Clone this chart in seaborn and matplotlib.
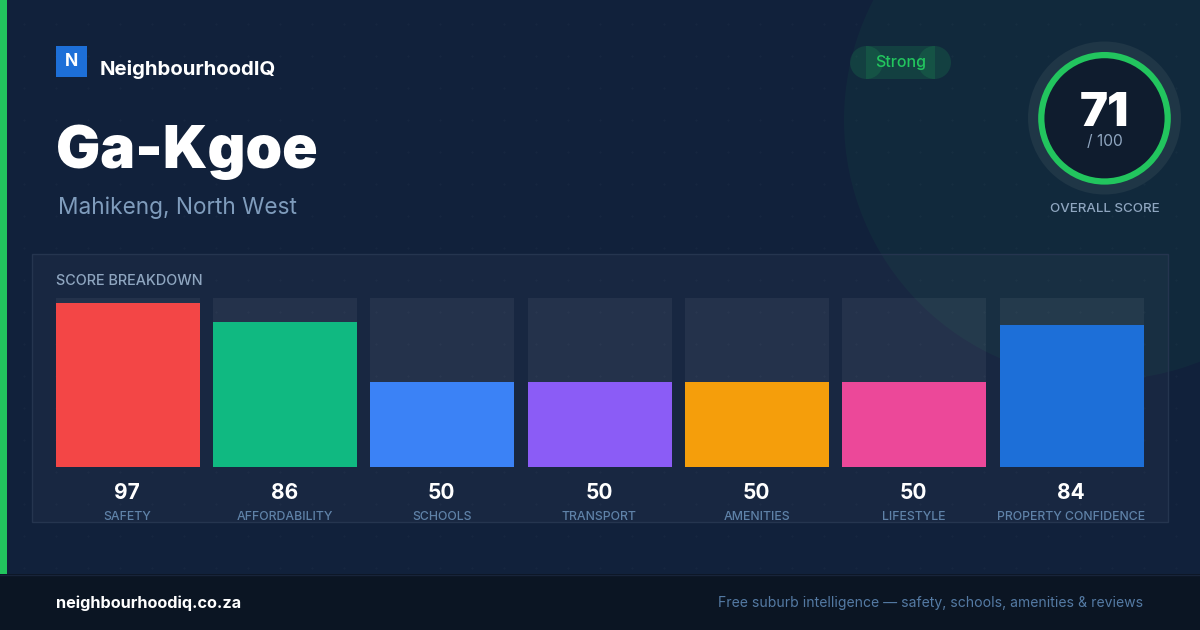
import matplotlib
matplotlib.use('Agg')
import matplotlib.pyplot as plt
from matplotlib.patches import Circle, Rectangle
from matplotlib.transforms import ScaledTranslation
import numpy as np
import seaborn as sns

categories = ['SAFETY', 'AFFORDABILITY', 'SCHOOLS', 'TRANSPORT', 'AMENITIES', 'LIFESTYLE', 'PROPERTY CONFIDENCE']
scores = [97, 86, 50, 50, 50, 50, 84]
track = [100] * 7
bar_colors = ['#f34646', '#10b981', '#3b82f6', '#8b5cf6', '#f59e0b', '#ec4899', '#1d6fd8']
overall = 71

sns.set_theme(style='white')
plt.rcParams['font.family'] = ['Inter', 'DejaVu Sans']

W, H = 1200, 630
GREEN = '#22c55e'
fig = plt.figure(figsize=(12, 6.3), dpi=100, facecolor='#11213b')

# fondo en pixeles, mismo sistema que la captura
bg = fig.add_axes([0, 0, 1, 1])
bg.set_xlim(0, W)
bg.set_ylim(H, 0)
bg.axis('off')

bg.add_patch(Circle((1104, 120), 260, fc=GREEN, alpha=0.05, lw=0))
dx, dy = np.meshgrid(np.arange(24, W, 32), np.arange(24, 574, 32))
bg.scatter(dx.ravel(), dy.ravel(), s=3, color='white', alpha=0.025, lw=0)

bg.add_patch(Rectangle((0, 0), 7, 574, fc=GREEN, lw=0))
bg.add_patch(Rectangle((0, 574), W, 56, fc='#0b1523', lw=0))
bg.plot([0, W], [574.5, 574.5], color='#18243a', lw=1)

# logo y titulos
bg.add_patch(Rectangle((56, 46), 31, 31, fc='#1d6fd8', lw=0))
bg.text(71.5, 61, 'N', color='white', fontsize=12.5, fontweight='bold', ha='center', va='center')
bg.text(100, 75, 'NeighbourhoodIQ', color='white', fontsize=14.65, fontweight='bold', va='baseline')
bg.text(56, 168.5, 'Ga-Kgoe', color='white', fontsize=42.3, fontweight='black', va='baseline')
bg.text(58, 214, 'Mahikeng, North West', color='#7f9cbc', fontsize=16.3, va='baseline')

# pastilla
bg.add_patch(Circle((866.5, 62.5), 16.5, fc=GREEN, alpha=0.15, lw=0))
bg.add_patch(Circle((934.5, 62.5), 16.5, fc=GREEN, alpha=0.15, lw=0))
bg.add_patch(Rectangle((866, 46), 69, 33, fc=GREEN, alpha=0.15, lw=0))
bg.text(900.5, 62.5, 'Strong', color=GREEN, fontsize=11.5, fontweight='medium', ha='center', va='center')

# indicador general
bg.add_patch(Circle((1104.5, 118), 76.5, fc='#1f3646', lw=0))
bg.add_patch(Circle((1104.5, 118.3), 63.2, fc='#0f1c2e', ec=GREEN, lw=4.5))
bg.text(1104.5, 126, str(overall), color='white', fontsize=34, fontweight='black', ha='center', va='baseline')
bg.text(1104.5, 142, '/ 100', color='#8fa6c0', fontsize=11.2, ha='center', va='center')
bg.text(1104.5, 208.5, 'OVERALL SCORE', color='#8fa6c0', fontsize=9.6, fontweight='medium', ha='center', va='center')

# panel
bg.add_patch(Rectangle((32, 254), 1136, 268, fc='white', alpha=0.03, lw=0))
bg.add_patch(Rectangle((32, 254), 1136, 268, fc='none', ec='#25354f', lw=1))
bg.text(56, 281, 'SCORE BREAKDOWN', color='#8fa6c0', fontsize=10.4, fontweight='medium', va='center')

# pie
bg.text(56, 603, 'neighbourhoodiq.co.za', color='white', fontsize=11.7, fontweight='bold', va='center')
bg.text(1143, 603, 'Free suburb intelligence — safety, schools, amenities & reviews',
        color='#547aa3', fontsize=10.1, ha='right', va='center')

# barras
step = (1144 - 56 - 144) / 6
left = 56 - (step - 144) / 2 - 0.2
ax = fig.add_axes([left / W, 1 - 466.9 / H, 7 * step / W, 169 / H])
ax.patch.set_alpha(0)
bar_width = 144 / step
sns.barplot(x=categories, y=track, color='white', alpha=0.055, saturation=1, width=bar_width,
            linewidth=0, edgecolor='none', ax=ax)
sns.barplot(x=categories, y=scores, hue=categories, palette=bar_colors, saturation=1,
            width=bar_width, legend=False, linewidth=0, edgecolor='none', ax=ax)
ax.set_ylim(0, 100)
ax.set_yticks([])
ax.set_xlim(-0.5, 6.5)
sns.despine(ax=ax, left=True, bottom=True)
ax.tick_params(axis='x', length=0, pad=32, labelsize=8.85, labelcolor='#5f82a8')
shift = ScaledTranslation(-0.3 / 72, 0, fig.dpi_scale_trans)
for lbl in ax.get_xticklabels():
    lbl.set_fontweight('medium')
    lbl.set_transform(lbl.get_transform() + shift)
for i, s in enumerate(scores):
    ax.annotate(str(s), (i, 0), xytext=(-0.5, -18.5), textcoords='offset points',
                color='white', fontsize=15, fontweight='bold', ha='center', va='center')

fig.savefig('out.png', dpi=100, facecolor=fig.get_facecolor())
